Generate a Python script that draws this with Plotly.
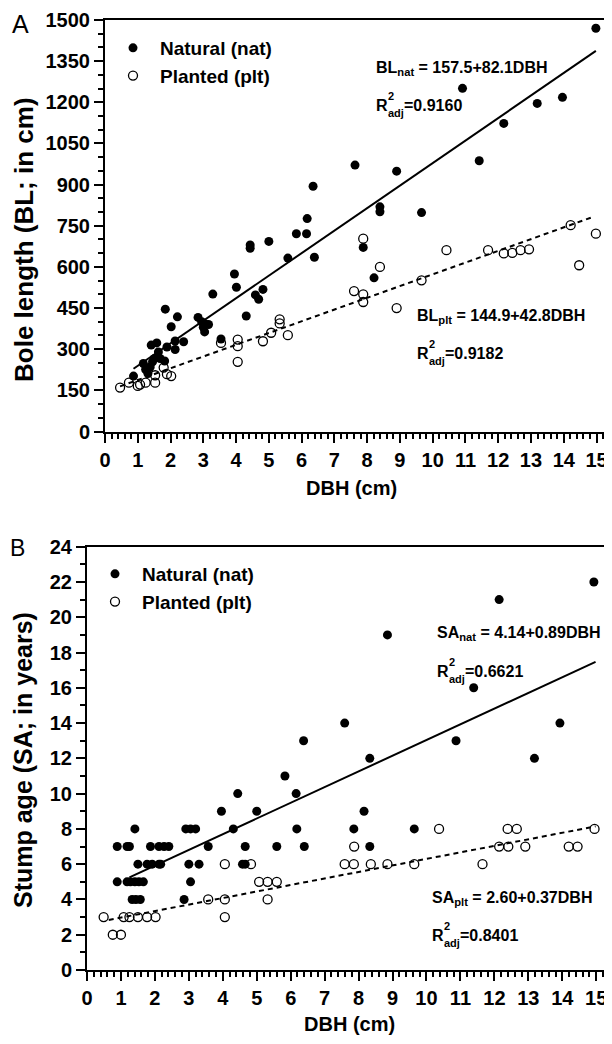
import plotly.graph_objects as go

# ---------------- Data ----------------
# Panel A: Bole length vs DBH
a_nat_dbh = [0.87, 1.17, 1.24, 1.31, 1.38, 1.45, 1.51, 1.63, 1.68, 1.82,
             1.41, 1.58, 1.84, 1.89, 2.02, 2.14, 2.14, 2.21, 2.40,
             2.84, 2.95, 3.06, 3.00, 3.04, 3.16,
             3.29, 3.54, 3.95, 4.01, 4.31, 4.43, 4.43, 4.59, 4.69, 4.82,
             5.00, 5.58, 5.84, 6.15, 6.39,
             6.17, 6.35, 7.63, 7.88, 8.21, 8.39, 8.39, 8.90, 9.66,
             10.91, 11.42, 12.17, 13.19, 13.96, 14.98]
a_nat_bl = [202, 248, 226, 211, 235, 254, 266, 290, 266, 257,
            315, 323, 446, 308, 382, 330, 299, 418, 327,
            416, 400, 392, 380, 363, 390,
            501, 337, 574, 526, 421, 680, 668, 498, 482, 518,
            693, 632, 721, 721, 635,
            776, 894, 971, 671, 560, 819, 801, 949, 798,
            1251, 987, 1123, 1196, 1218, 1470]

a_plt_dbh = [0.46, 0.73, 1.00, 1.07, 1.24, 1.53, 1.53, 1.79, 1.89, 2.02,
             3.54, 4.05, 4.05, 4.05, 4.82, 5.07, 5.33, 5.33, 5.58,
             7.60, 7.88, 7.88, 7.88, 8.39, 8.90, 9.66, 10.42, 11.69,
             12.17, 12.43, 12.68, 12.94, 14.21, 14.47, 14.98]
a_plt_bl = [160, 178, 166, 171, 178, 178, 205, 233, 209, 202,
            323, 335, 311, 254, 329, 360, 409, 394, 351,
            512, 703, 500, 472, 600, 450, 551, 661, 661,
            649, 651, 661, 664, 752, 606, 721]

# Panel B: Stump age vs DBH
b_nat_dbh = [0.89, 0.89, 1.18, 1.25, 1.18, 1.28, 1.41, 1.53, 1.66, 1.41,
             1.33, 1.44, 1.57, 1.50, 1.77, 1.92, 2.12, 2.17, 1.87, 2.12,
             2.27, 2.41, 2.86, 2.91, 3.05, 3.20, 3.00, 3.30, 3.05, 3.57,
             3.96, 4.31, 4.44, 4.66, 4.58, 4.66, 5.00, 5.59, 5.83, 6.16,
             6.18, 6.40, 6.38, 7.86, 7.59, 8.16, 8.33, 8.33, 8.85, 9.64,
             10.87, 11.39, 12.14, 13.18, 13.93, 14.93]
b_nat_sa = [7, 5, 7, 7, 5, 5, 5, 5, 5, 8,
            4, 4, 4, 6, 6, 6, 6, 6, 7, 7,
            7, 7, 4, 8, 8, 8, 6, 6, 5, 7,
            9, 8, 10, 7, 6, 6, 9, 7, 11, 10,
            8, 7, 13, 8, 14, 9, 12, 7, 19, 8,
            13, 16, 21, 12, 14, 22]

b_plt_dbh = [0.49, 0.76, 1.00, 1.08, 1.25, 1.50, 1.77, 2.02, 3.57, 4.06,
             4.06, 4.06, 4.83, 5.07, 5.32, 5.59, 5.32, 7.59, 7.86, 7.87,
             8.36, 8.85, 9.64, 10.37, 11.65, 12.14, 12.41, 12.91, 12.39, 12.66,
             14.19, 14.45, 14.95]
b_plt_sa = [3, 2, 2, 3, 3, 3, 3, 3, 4, 4,
            3, 6, 6, 5, 5, 5, 4, 6, 6, 7,
            6, 6, 6, 8, 6, 7, 7, 7, 8, 8,
            7, 7, 8]

# Fitted regressions as printed on the chart (intercept, slope) and x extent
a_nat_fit = (157.5, 82.1); a_nat_fit_x = [0.87, 14.98]
a_plt_fit = (144.9, 42.8); a_plt_fit_x = [0.46, 14.90]
b_nat_fit = (4.14, 0.89); b_nat_fit_x = [1.25, 14.98]
b_plt_fit = (2.60, 0.37); b_plt_fit_x = [0.64, 14.98]

legend_names = ["Natural (nat)", "Planted (plt)"]

# ---------------- Figure ----------------
W, H = 612, 1044
OFF = 8  # page body margin: the figure is drawn 8px right/down of the window corner
FONT = "Arial, Liberation Sans, sans-serif"


def px(x):
    return (x - OFF) / W


def py(y):
    return 1 - (y - OFF) / H


def fit_y(fit, xs):
    return [fit[0] + fit[1] * x for x in xs]


fig = go.Figure()

mk_fill = dict(symbol="circle", size=9, color="black", line=dict(width=0))
mk_open = dict(symbol="circle-open", size=9, color="black", line=dict(width=1.3))

# Panel A
fig.add_trace(go.Scatter(x=a_nat_fit_x, y=fit_y(a_nat_fit, a_nat_fit_x), mode="lines",
                         line=dict(color="black", width=2), showlegend=False,
                         xaxis="x", yaxis="y"))
fig.add_trace(go.Scatter(x=a_plt_fit_x, y=fit_y(a_plt_fit, a_plt_fit_x), mode="lines",
                         line=dict(color="black", width=2, dash="5px,4px"), showlegend=False,
                         xaxis="x", yaxis="y"))
fig.add_trace(go.Scatter(x=a_plt_dbh, y=a_plt_bl, mode="markers", marker=mk_open,
                         name=legend_names[1], legend="legend", legendrank=2,
                         xaxis="x", yaxis="y"))
fig.add_trace(go.Scatter(x=a_nat_dbh, y=a_nat_bl, mode="markers", marker=mk_fill,
                         name=legend_names[0], legend="legend", legendrank=1,
                         xaxis="x", yaxis="y"))

# Panel B
fig.add_trace(go.Scatter(x=b_nat_fit_x, y=fit_y(b_nat_fit, b_nat_fit_x), mode="lines",
                         line=dict(color="black", width=2), showlegend=False,
                         xaxis="x2", yaxis="y2"))
fig.add_trace(go.Scatter(x=b_plt_fit_x, y=fit_y(b_plt_fit, b_plt_fit_x), mode="lines",
                         line=dict(color="black", width=2, dash="5px,4px"), showlegend=False,
                         xaxis="x2", yaxis="y2"))
fig.add_trace(go.Scatter(x=b_plt_dbh, y=b_plt_sa, mode="markers", marker=mk_open,
                         name=legend_names[1], legend="legend2", legendrank=2,
                         xaxis="x2", yaxis="y2"))
fig.add_trace(go.Scatter(x=b_nat_dbh, y=b_nat_sa, mode="markers", marker=mk_fill,
                         name=legend_names[0], legend="legend2", legendrank=1,
                         xaxis="x2", yaxis="y2"))

tickfont = dict(family=FONT, size=20, color="black", weight="bold")


def axis_common(**kw):
    d = dict(showline=True, linecolor="black", linewidth=2, mirror=True,
             ticks="outside", ticklen=9, tickwidth=2, tickcolor="black",
             showgrid=False, zeroline=False, tickfont=tickfont, fixedrange=True,
             automargin=False)
    d.update(kw)
    return d


legend_font = dict(family=FONT, size=19, color="black", weight="bold")

layout = dict(
    width=W, height=H,
    margin=dict(l=0, r=0, t=0, b=0, autoexpand=False),
    paper_bgcolor="white", plot_bgcolor="white",
    font=dict(family=FONT, color="black"),
    xaxis=axis_common(domain=[px(105), px(608)], range=[0, 15.35], dtick=1, tick0=0,
                      minor=dict(dtick=0.2, ticklen=5, tickwidth=1.5, ticks="outside",
                                 tickcolor="black"),
                      anchor="y"),
    yaxis=axis_common(domain=[py(431.5), py(20)], range=[0, 1500], dtick=150, tick0=0,
                      minor=dict(dtick=50, ticklen=5, tickwidth=1.5, ticks="outside",
                                 tickcolor="black"),
                      anchor="x"),
    xaxis2=axis_common(domain=[px(87), px(610.5)], range=[0, 15.42], dtick=1, tick0=0,
                       minor=dict(dtick=0.2, ticklen=5, tickwidth=1.5, ticks="outside",
                                  tickcolor="black"),
                       anchor="y2"),
    yaxis2=axis_common(domain=[py(970), py(546.7)], range=[0, 24], dtick=2, tick0=0,
                       minor=dict(dtick=1, ticklen=5, tickwidth=1.5, ticks="outside",
                                  tickcolor="black"),
                       anchor="x2"),
    legend=dict(x=px(106), y=py(29), xanchor="left", yanchor="top", font=legend_font,
                bgcolor="rgba(0,0,0,0)", borderwidth=0, itemwidth=44, tracegroupgap=0),
    legend2=dict(x=px(88), y=py(555), xanchor="left", yanchor="top", font=legend_font,
                 bgcolor="rgba(0,0,0,0)", borderwidth=0, itemwidth=44, tracegroupgap=0),
    showlegend=True,
)
fig.update_layout(**layout)

ann = []


def text(x, y, t, size=16, bold=True, anchor="left"):
    f = dict(family=FONT, size=size, color="black")
    if bold:
        f["weight"] = "bold"
    ann.append(dict(x=px(x), y=py(y), xref="paper", yref="paper", text=t,
                    showarrow=False, xanchor=anchor, yanchor="middle", font=f))


def rtext(x, y, t, size=25):
    ann.append(dict(x=px(x), y=py(y), xref="paper", yref="paper", text=t,
                    showarrow=False, xanchor="center", yanchor="middle", textangle=-90,
                    font=dict(family=FONT, size=size, color="black", weight="bold")))


def r2(x, y, val):
    text(x, y, "R")
    text(x + 11.5, y - 9, "2", size=11)
    text(x + 11.5, y + 8, "adj", size=11)
    text(x + 28, y, "=" + val)


# Panel letters
text(20, 24, "A", size=25, bold=False, anchor="center")
text(17, 548, "B", size=23, bold=False, anchor="center")

# Axis titles
rtext(24, 240, "Bole length (BL; in cm)", size=26)
rtext(23, 760, "Stump age (SA; in years)", size=25)
text(351, 488, "DBH (cm)", size=20, anchor="center")
text(349, 1024, "DBH (cm)", size=20, anchor="center")

# Equations panel A
text(374, 68, "BL<sub>nat</sub> = %.1f+%.1fDBH" % a_nat_fit)
r2(374, 105, "0.9160")
text(415, 316, "BL<sub>plt</sub> = %.1f+%.1fDBH" % a_plt_fit)
r2(415, 353, "0.9182")

# Equations panel B
text(435, 633, "SA<sub>nat</sub> = %.2f+%.2fDBH" % b_nat_fit)
r2(435, 671, "0.6621")
text(430, 898, "SA<sub>plt</sub> = %.2f+%.2fDBH" % b_plt_fit)
r2(430, 935, "0.8401")

fig.update_layout(annotations=ann)

fig.write_html("out.html")
